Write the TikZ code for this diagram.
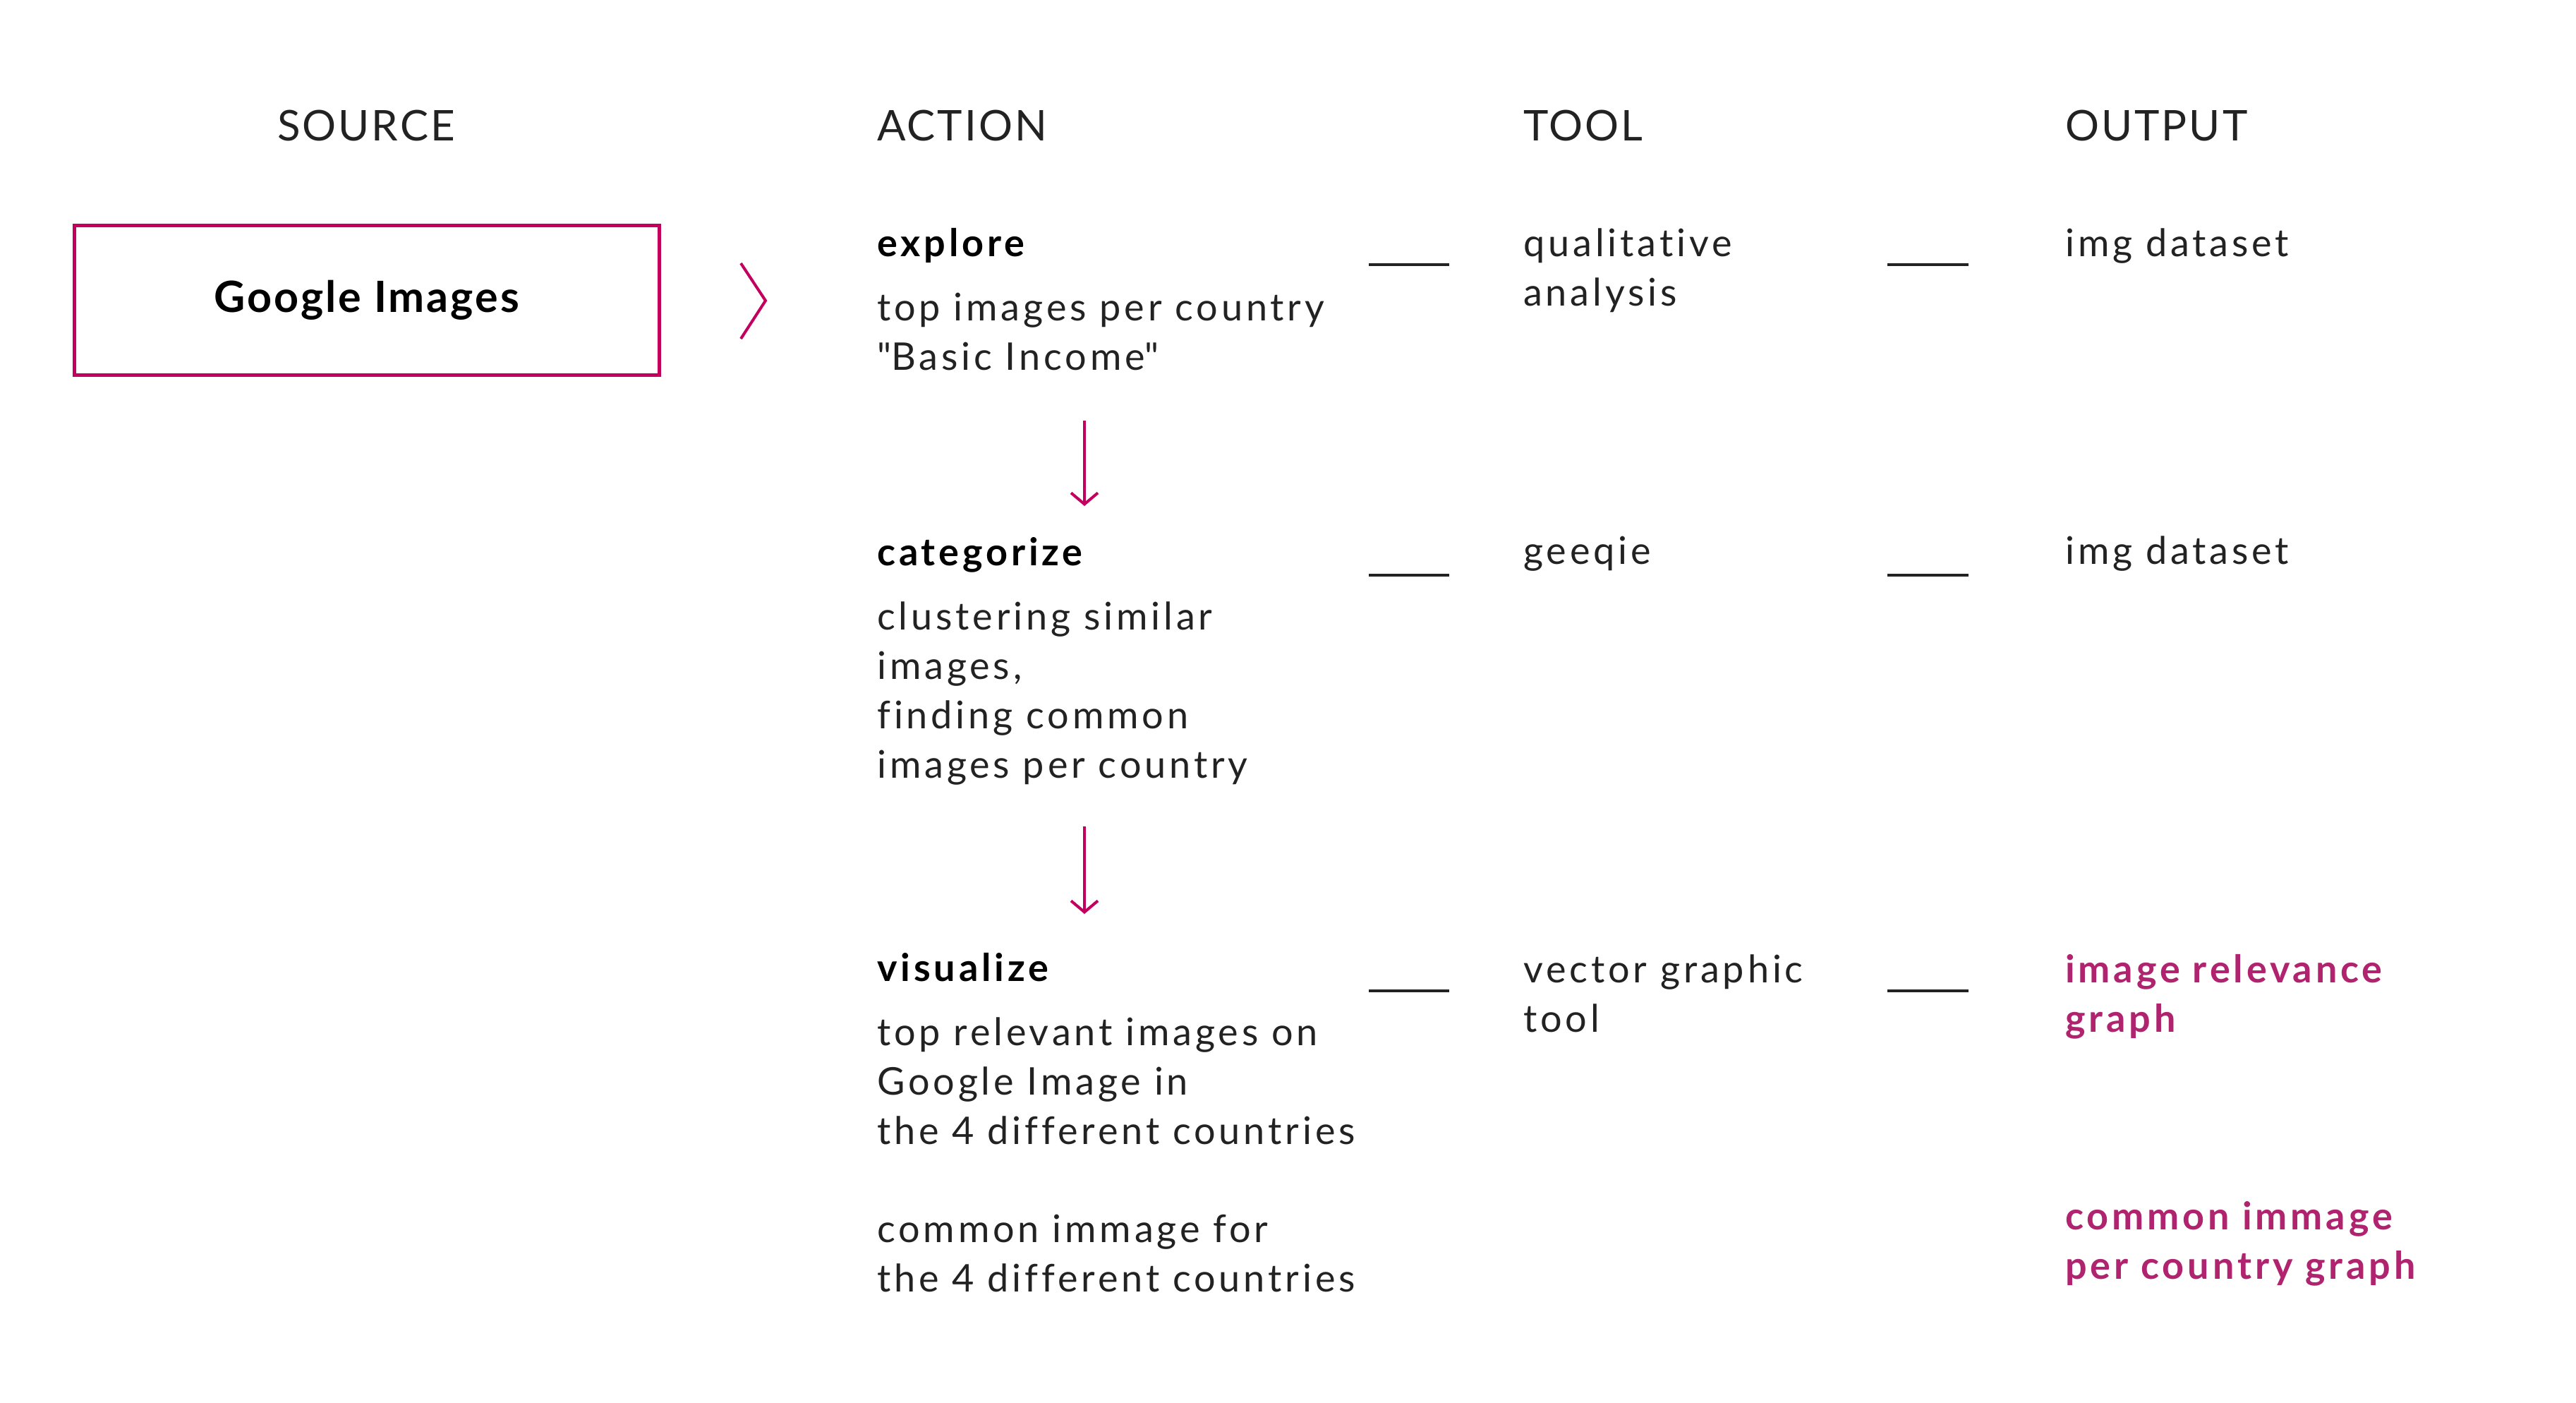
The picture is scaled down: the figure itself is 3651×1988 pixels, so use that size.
\documentclass[tikz,border=0pt]{standalone}
\usepackage{fontspec}
\setmainfont[LetterSpace=9, Ligatures={NoCommon}]{Lato}
\usetikzlibrary{arrows.meta}
\definecolor{boxpink}{HTML}{C4005F}
\definecolor{outpink}{HTML}{B0236E}
\definecolor{ink}{HTML}{222222}
% lines set from the baseline of the first one
\newcommand{\lines}[1]{\begin{tabular}[t]{@{}l@{}}#1\end{tabular}}

\begin{document}
\begin{tikzpicture}[x=1pt, y=-1pt,
    colhead/.style   = {anchor = base west, inner sep = 0, text = ink, font = \fontsize{60}{74}\selectfont\addfontfeatures{LetterSpace=5}},
    stephead/.style  = {anchor = base west, inner sep = 0, text = black, font = \fontsize{54}{70}\selectfont\bfseries},
    steptext/.style  = {anchor = base west, inner sep = 0, text = ink, font = \fontsize{54}{70}\selectfont},
    outhot/.style    = {steptext, text = outpink, font = \fontsize{54}{70}\selectfont\bfseries},
    sourcebox/.style = {draw = boxpink, line width = 5, minimum width = 829, minimum height = 212,
                        font = \fontsize{61}{70}\selectfont\bfseries\addfontfeatures{LetterSpace=5}},
    joinline/.style  = {draw = ink, line width = 4},
    flow/.style      = {draw = boxpink, line width = 4, -{Straight Barb[length = 16, width = 38, line width = 4]}}]
    \useasboundingbox (0,0) rectangle (3651,1988);

    % Column headers:
    \node [colhead, anchor = base] (hSource) at (519,200)  {SOURCE};
    \node [colhead] (hAction) at (1243,200) {ACTION};
    \node [colhead] (hTool)   at (2159,200) {TOOL};
    \node [colhead] (hOutput) at (2927,200) {OUTPUT};

    % Source:
    \node [sourcebox] (source) at (519.5,425) {Google Images};
    \draw [draw = boxpink, line width = 4] (1050,373) -- (1085,426) -- (1050,480);

    % Actions:
    \node [stephead] (explore)    at (1243,363)  {explore};
    \node [steptext] (exploreTx)  at (1243,454)  {\lines{top images per country\\\textquotedbl Basic Income\textquotedbl}};
    \node [stephead] (categorize) at (1243,801)  {categorize};
    \node [steptext] (categTx)    at (1243,892)  {\lines{clustering similar\\images,\\finding common\\images per country}};
    \node [stephead] (visualize)  at (1243,1390) {visualize};
    \node [steptext] (visualTx)   at (1243,1481) {\lines{top relevant images on\\Google Image in\\the 4 different countries}};
    \node [steptext] (commonTx)   at (1243,1760) {\lines{common immage for\\the 4 different countries}};

    \coordinate (f1s) at (1537,596);  \coordinate (f1e) at (1537,717);
    \coordinate (f2s) at (1537,1171); \coordinate (f2e) at (1537,1295);
    \draw [flow] (f1s) -- (f1e);
    \draw [flow] (f2s) -- (f2e);

    % Tools:
    \node [steptext] (qualitative) at (2159,363)  {\lines{qualitative\\analysis}};
    \node [steptext] (geeqie)      at (2159,799)  {geeqie};
    \node [steptext] (vector)      at (2159,1392) {\lines{vector graphic\\tool}};

    % Outputs:
    \node [steptext] (out1) at (2927,363)  {img dataset};
    \node [steptext] (out2) at (2927,799)  {img dataset};
    \node [outhot]   (out3) at (2927,1392) {\lines{image relevance\\graph}};
    \node [outhot]   (out4) at (2927,1742) {\lines{common immage\\per country graph}};

    % Join lines between the columns:
    \foreach \y in {375, 815, 1404} {
        \draw [joinline] (1940,\y) -- (2054,\y);
        \draw [joinline] (2675,\y) -- (2790,\y);
    }
\end{tikzpicture}
\end{document}
